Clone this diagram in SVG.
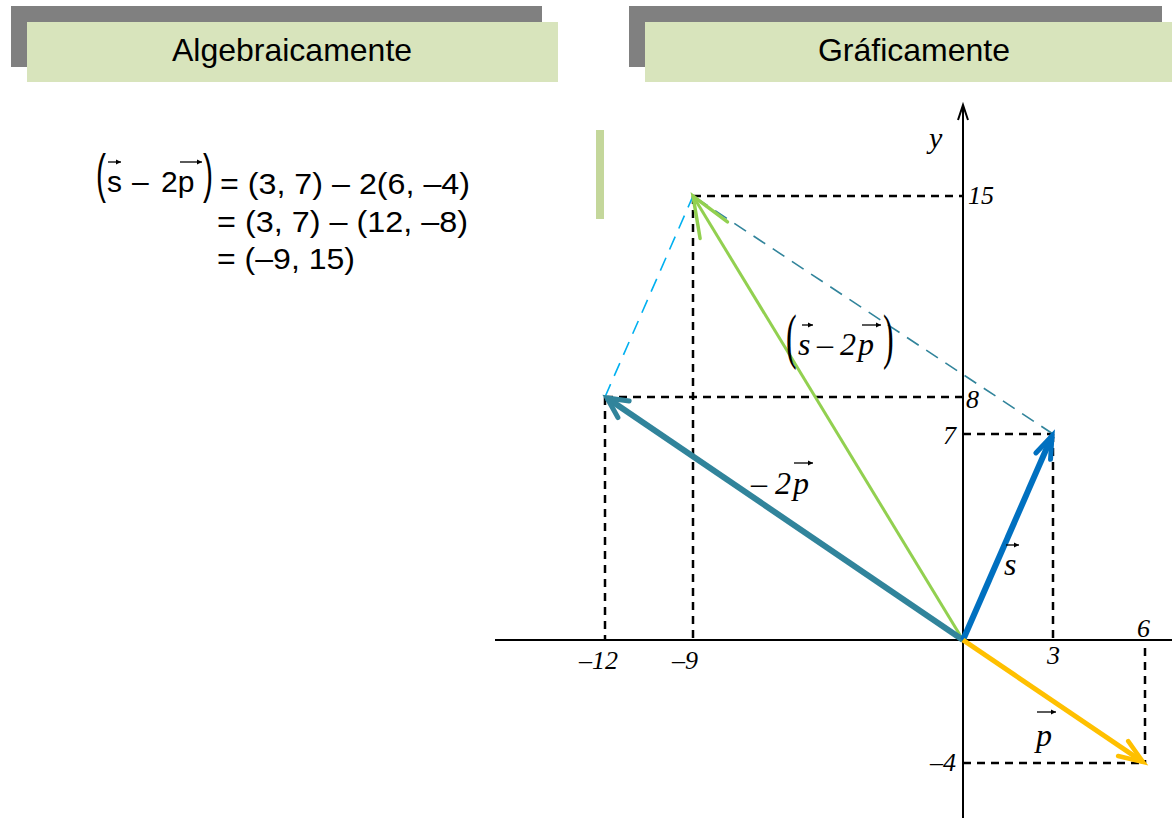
<svg xmlns="http://www.w3.org/2000/svg" width="1172" height="819" viewBox="0 0 1172 819">
<style>
.hdrback{fill:#808080}
.hdrfront{fill:#D8E4BC}
.hdrtext{font-family:"Liberation Sans",Arial,sans-serif;font-size:32px;fill:#000;text-anchor:middle}
.eq{font-family:"Liberation Sans",Arial,sans-serif;font-size:30px;fill:#000}
.ax{font-family:"Liberation Serif","Times New Roman",serif;font-style:italic;font-size:26px;fill:#000}
.lbl{font-family:"Liberation Serif","Times New Roman",serif;font-style:italic;font-size:32px;fill:#000}
.up{font-style:normal}
.axis{stroke:#000;stroke-width:2;fill:none}
.guide{stroke:#000;stroke-width:2.5;stroke-dasharray:8 6;fill:none}
.vecarrow{stroke:#000;stroke-width:1.3;fill:none}
</style>
<defs>
<marker id="mk-s" markerUnits="userSpaceOnUse" viewBox="-30 -15 34 30" refX="0" refY="0" markerWidth="34" markerHeight="30" orient="auto" overflow="visible">
<path d="M-22,-8 L0,0 L-22,8" fill="none" stroke="#0070C0" stroke-width="5" stroke-linecap="round"/>
</marker>
<marker id="mk-p" markerUnits="userSpaceOnUse" viewBox="-30 -15 34 30" refX="0" refY="0" markerWidth="34" markerHeight="30" orient="auto" overflow="visible">
<path d="M-24,-9 L0,0 L-24,9" fill="none" stroke="#FFC000" stroke-width="4.5" stroke-linecap="round"/>
</marker>
<marker id="mk-m2p" markerUnits="userSpaceOnUse" viewBox="-30 -15 34 30" refX="0" refY="0" markerWidth="34" markerHeight="30" orient="auto" overflow="visible">
<path d="M-20,-10 L0,0 L-20,10" fill="none" stroke="#31849B" stroke-width="5" stroke-linecap="round"/>
</marker>
<marker id="mk-r" markerUnits="userSpaceOnUse" viewBox="-45 -20 50 40" refX="0" refY="0" markerWidth="50" markerHeight="40" orient="auto" overflow="visible">
<path d="M-40,-16 L0,0 L-40,16" fill="none" stroke="#92D050" stroke-width="3.5" stroke-linecap="round"/>
</marker>
<marker id="mk-axis" markerUnits="userSpaceOnUse" viewBox="-20 -10 24 20" refX="0" refY="0" markerWidth="24" markerHeight="20" orient="auto" overflow="visible">
<path d="M-15,-5 L0,0 L-15,5" fill="none" stroke="#000" stroke-width="2"/>
</marker>
<marker id="mk-small" markerUnits="userSpaceOnUse" viewBox="-6 -4 8 8" refX="0" refY="0" markerWidth="8" markerHeight="8" orient="auto" overflow="visible">
<path d="M-5,-2.5 L0,0 L-5,2.5 Z" fill="#000"/>
</marker>
</defs>

<g id="header-algebraic">
<rect class="hdrback" x="11" y="6" width="531" height="61"/>
<rect class="hdrfront" x="27" y="22" width="531" height="60"/>
<text class="hdrtext" x="292" y="61">Algebraicamente</text>
</g>

<g id="header-graphic">
<rect class="hdrback" x="629" y="6" width="533" height="61"/>
<rect class="hdrfront" x="645" y="22" width="527" height="60"/>
<text class="hdrtext" x="914" y="61">Gráficamente</text>
</g>

<g id="equation">
<text class="eq" transform="translate(96,192) scale(1,1.8)">(</text>
<text class="eq" x="107" y="192">s</text>
<line class="vecarrow" x1="108" y1="162" x2="121" y2="162" marker-end="url(#mk-small)"/>
<text class="eq" x="132" y="192">–</text>
<text class="eq" x="161" y="192">2p</text>
<line class="vecarrow" x1="180" y1="162" x2="202" y2="162" marker-end="url(#mk-small)"/>
<text class="eq" transform="translate(203,192) scale(1,1.8)">)</text>
<text class="eq" x="220" y="194" textLength="250" lengthAdjust="spacingAndGlyphs">= (3, 7) – 2(6, –4)</text>
<text class="eq" x="217" y="232" textLength="251" lengthAdjust="spacingAndGlyphs">= (3, 7) – (12, –8)</text>
<text class="eq" x="217" y="269" textLength="138" lengthAdjust="spacingAndGlyphs">= (–9, 15)</text>
</g>

<g id="accent-bar">
<rect x="596" y="130" width="8" height="89" fill="#C4D79B"/>
</g>

<g id="axes">
<line class="axis" x1="495" y1="640" x2="1172" y2="640"/>
<line class="axis" x1="963" y1="818" x2="963" y2="105" marker-end="url(#mk-axis)"/>
<text class="ax" x="929" y="148" style="font-size:30px">y</text>
<text class="ax" x="968" y="204">15</text>
<text class="ax" x="966" y="408">8</text>
<text class="ax" x="943" y="444">7</text>
<text class="ax" x="1137" y="637">6</text>
<text class="ax" x="1047" y="664">3</text>
<text class="ax" x="579" y="669">–12</text>
<text class="ax" x="672" y="669">–9</text>
<text class="ax" x="930" y="771">–4</text>
</g>

<g id="connectors">
<path class="guide" d="M693,196 H963 M693,196 V640"/>
<path class="guide" d="M605,397 H963 M605,397 V640"/>
<path class="guide" d="M963,434 H1053 M1053,434 V640"/>
<path class="guide" d="M963,763 H1145 M1145,648 V763"/>
<line x1="1053" y1="434" x2="693" y2="196" stroke="#31849B" stroke-width="1.6" stroke-dasharray="14 9"/>
<line x1="605" y1="397" x2="693" y2="196" stroke="#00B0F0" stroke-width="1.6" stroke-dasharray="14 9"/>
<line id="vec-r" x1="963" y1="640" x2="693" y2="196" stroke="#92D050" stroke-width="3" marker-end="url(#mk-r)"/>
<line id="vec-m2p" x1="963" y1="640" x2="607" y2="398" stroke="#31849B" stroke-width="6" marker-end="url(#mk-m2p)"/>
<line id="vec-s" x1="963" y1="640" x2="1052" y2="436" stroke="#0070C0" stroke-width="6" marker-end="url(#mk-s)"/>
<line id="vec-p" x1="963" y1="640" x2="1143" y2="762" stroke="#FFC000" stroke-width="5" marker-end="url(#mk-p)"/>
</g>

<g id="label-s">
<text class="lbl" x="1004" y="575">s</text>
<line class="vecarrow" x1="1006" y1="545" x2="1019" y2="545" marker-end="url(#mk-small)"/>
</g>

<g id="label-p">
<text class="lbl" x="1036" y="746">p</text>
<line class="vecarrow" x1="1037" y1="712" x2="1056" y2="712" marker-end="url(#mk-small)"/>
</g>

<g id="label-m2p">
<text class="lbl" x="751" y="494"><tspan class="up">–</tspan><tspan dx="8">2</tspan><tspan dx="2">p</tspan></text>
<line class="vecarrow" x1="794" y1="463" x2="813" y2="463" marker-end="url(#mk-small)"/>
</g>

<g id="label-r">
<text class="lbl up" transform="translate(786,357) scale(1,1.9)">(</text>
<text class="lbl" x="798" y="355">s</text>
<line class="vecarrow" x1="802" y1="325" x2="813" y2="325" marker-end="url(#mk-small)"/>
<text class="lbl" x="817" y="355"><tspan class="up">–</tspan><tspan dx="7">2</tspan><tspan dx="2">p</tspan></text>
<line class="vecarrow" x1="862" y1="325" x2="881" y2="325" marker-end="url(#mk-small)"/>
<text class="lbl up" transform="translate(883,357) scale(1,1.9)">)</text>
</g>
</svg>
